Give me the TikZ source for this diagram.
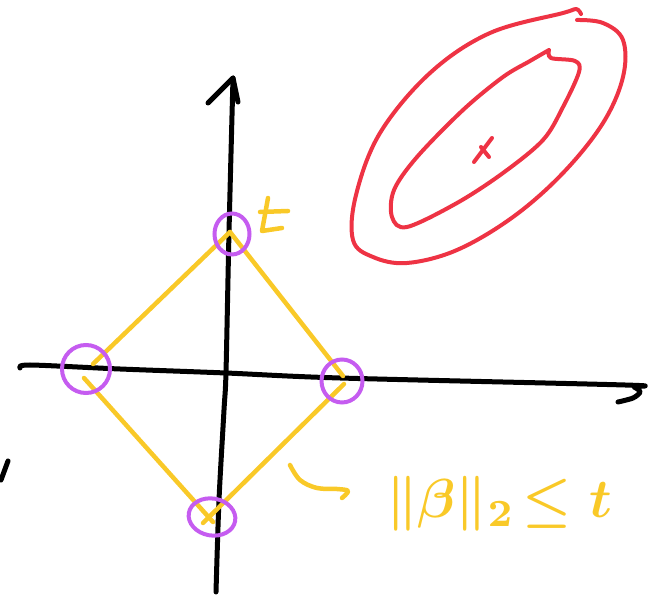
\documentclass[tikz,border=0pt]{standalone}
\usepackage{graphicx}
\usepackage{amsmath}
\usetikzlibrary{shapes.geometric}
\definecolor{penyellow}{HTML}{F9C928}
\definecolor{penpurple}{HTML}{C55CF0}
\definecolor{penred}{HTML}{EE3344}
\tikzset{
  ink/.style={line width=#1, line cap=round, line join=round},
  blackpen/.style={ink=5pt, draw=black},
  yellowpen/.style={ink=4.5pt, draw=penyellow},
  purplepen/.style={ink=4pt, draw=penpurple},
  redpen/.style={ink=4pt, draw=penred},
  ring/.style={draw=penpurple, line width=4pt, ellipse, inner sep=0pt},
}
\begin{document}
\begin{tikzpicture}[x=1pt,y=-1pt]
\useasboundingbox (0,0) rectangle (657,601);
% red contours
\draw[redpen] plot[smooth, tension=0.6] coordinates {(581,14) (576,9) (563,13) (490,33) (430,73) (380,133) (356,195) (353,240) (373,257) (407,263) (457,250) (513,217) (563,173) (603,123) (623,77) (623,40) (603,23) (577,20)};
\draw[redpen] plot[smooth, tension=0.55] coordinates {(549,50) (551,58) (575,61) (579,72) (563,107) (543,140) (503,173) (457,203) (407,227) (392,217) (394,190) (417,157) (463,110) (503,77) (530,61) (549,50)};
\coordinate (m1) at (474,162); \coordinate (m2) at (492,138);
\coordinate (m3) at (481,147); \coordinate (m4) at (489,157);
\draw[redpen] (m1) -- (m2);
\draw[redpen] (m3) -- (m4);
% axes
\coordinate (vbot) at (216,592);
\coordinate (vtop) at (233,78);
\draw[blackpen] plot[smooth] coordinates {(vbot) (219,500) (224,410) (226,372) (229,232) (vtop)};
\coordinate (vl) at (208,103); \coordinate (vr) at (238,102);
\draw[blackpen] (vl) -- (228,83) -- (vtop) -- (vr);
\coordinate (hleft) at (20,368);
\draw[blackpen] plot[smooth, tension=0.5] coordinates {(hleft) (30,365) (120,369) (226,373) (340,378) (625,385) (634,387) (640,392) (633,398) (618,402)};
% left edge mark
\coordinate (e1) at (8,461); \coordinate (e2) at (1,480);
\draw[blackpen] (e1) -- (e2);
% diamond
\coordinate (dT) at (230,232);
\coordinate (dL1) at (93,364);
\coordinate (dL2) at (84,378);
\coordinate (dR1) at (343,376);
\coordinate (dR2) at (344,384);
\coordinate (dB1) at (213,522);
\coordinate (dB2) at (203,523);
\draw[yellowpen] (dT) -- (dL1);
\draw[yellowpen] (dT) -- (dR1);
\draw[yellowpen] (dR2) -- (dB2);
\draw[yellowpen] (dL2) -- (dB1);
% t near top
\draw[yellowpen] (268,198) -- (262,231) -- (282,228);
\draw[yellowpen] (260,212) -- (288,211);
% purple circles
\node[ring, minimum width=35pt, minimum height=41pt] (cT) at (232,234) {};
\node[ring, minimum width=48pt, minimum height=48pt] (cL) at (86,369) {};
\node[ring, minimum width=41pt, minimum height=43pt] (cR) at (342,381) {};
\node[ring, minimum width=47pt, minimum height=37pt, rotate=-10] (cB) at (212,517) {};
% curved arrow and label
\draw[yellowpen] plot[smooth, tension=0.6] coordinates {(290,465) (300,480) (317,488) (337,489) (348,491) (342,498)};
\node[text=penyellow, anchor=base west, inner sep=0pt] (lab) at (386,518) {\scalebox{5.5}{\boldmath$\|\beta\|_2\!\le t$}};
\end{tikzpicture}
\end{document}
